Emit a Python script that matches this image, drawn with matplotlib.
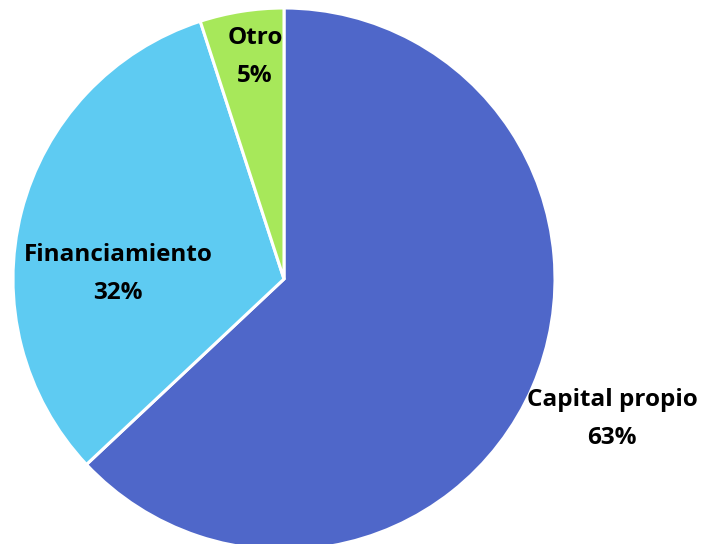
import matplotlib
matplotlib.use("Agg")
import matplotlib.pyplot as plt

labels = ["Capital propio", "Financiamiento", "Otro"]
shares = [63, 32, 5]
colors = ["#4F67C9", "#5ECBF2", "#A7E85A"]
# label centres in pixel coords (x, y from top)
label_pos = [(612, 419), (118, 274), (255, 57)]

W, H = 702, 544
fig = plt.figure(figsize=(W / 100, H / 100), dpi=100)
ax = fig.add_axes([0, 0, 1, 1])
ax.set_xlim(0, W)
ax.set_ylim(0, H)
ax.set_aspect("equal")
ax.axis("off")

ax.pie(shares, colors=colors, startangle=90, counterclock=False,
       center=(284, H - 279), radius=271,
       wedgeprops=dict(edgecolor="white", linewidth=2.2))

for lab, val, (x, y) in zip(labels, shares, label_pos):
    ax.text(x, H - y, "%s\n%d%%" % (lab, val), ha="center", va="center",
            fontsize=17.5, fontweight="bold", family="Open Sans",
            linespacing=1.75, color="black")

ax.set_xlim(0, W)
ax.set_ylim(0, H)
fig.savefig("out.png", dpi=100)
